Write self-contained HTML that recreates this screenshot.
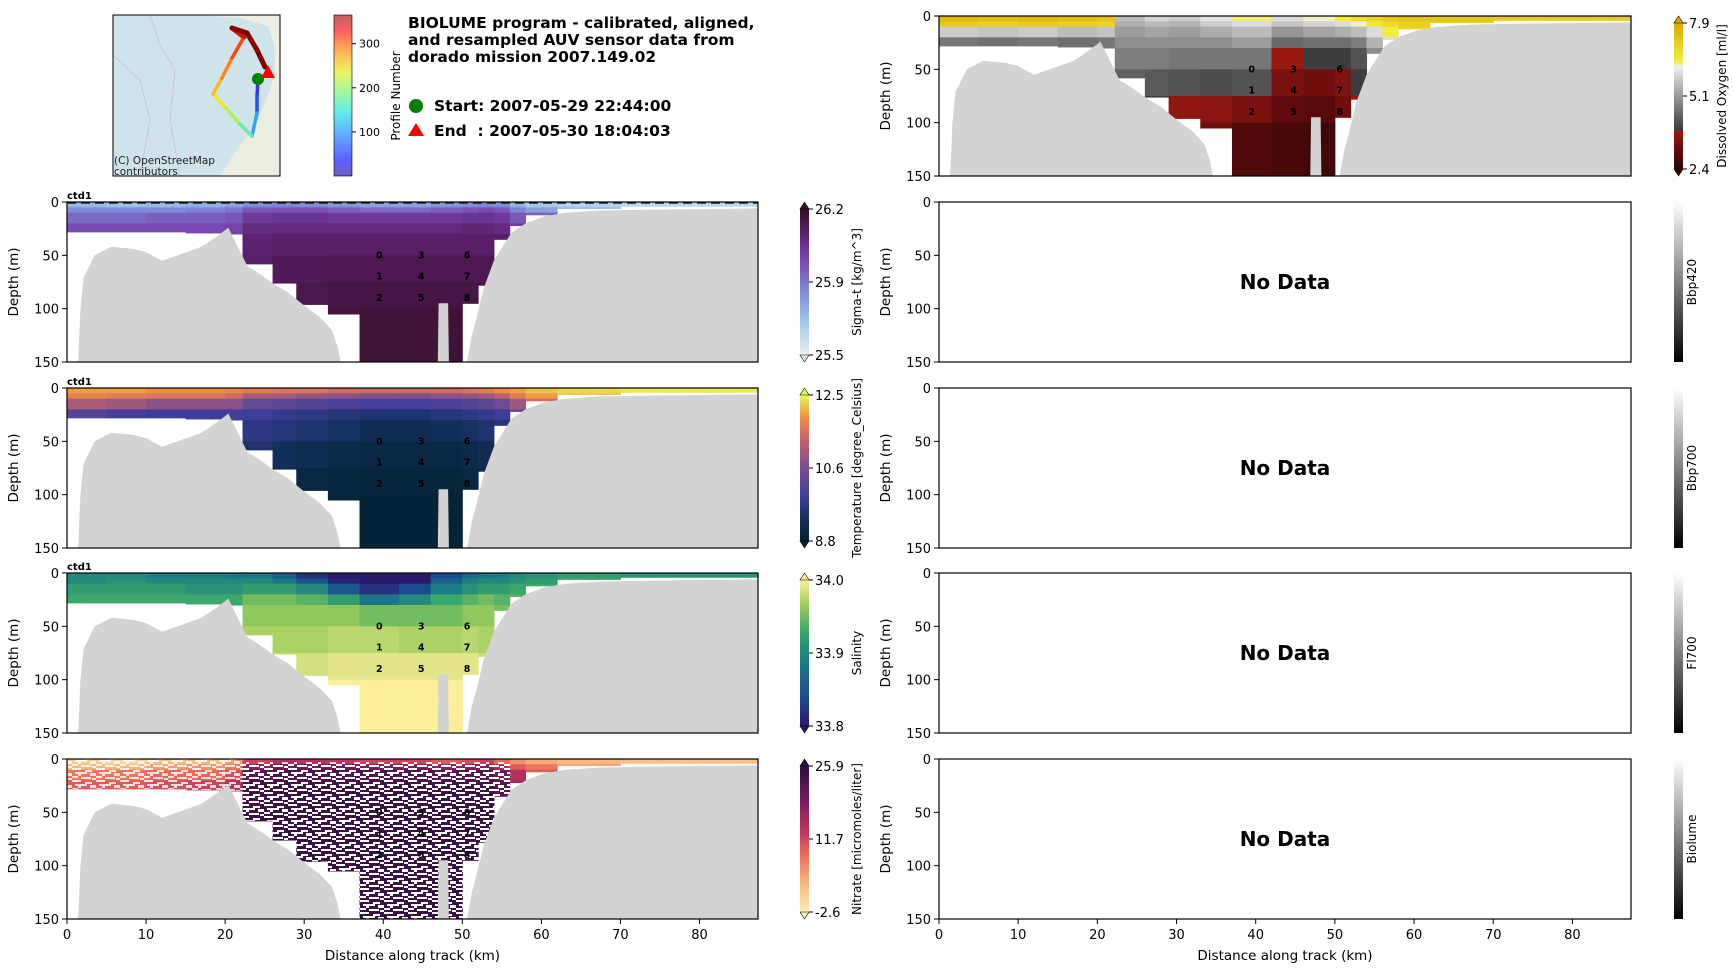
<!DOCTYPE html>
<html><head><meta charset="utf-8">
<style>
html,body{margin:0;padding:0;background:#fff;}
svg text{font-family:"DejaVu Sans","Liberation Sans",sans-serif;}
</style></head>
<body>
<svg id="fig" xmlns="http://www.w3.org/2000/svg" width="1733" height="968" viewBox="0 0 1733 968">
<defs>
<pattern id="speck" width="24" height="12" patternUnits="userSpaceOnUse">
<rect x="0" y="0" width="9" height="2" fill="#fff"/><rect x="13" y="2" width="7" height="2" fill="#fff"/>
<rect x="3" y="4" width="12" height="2" fill="#fff"/><rect x="18" y="5" width="6" height="3" fill="#fff"/>
<rect x="0" y="8" width="6" height="2" fill="#fff"/><rect x="9" y="9" width="10" height="2" fill="#fff"/>
<rect x="20" y="10" width="4" height="2" fill="#fff"/><rect x="6" y="6" width="3" height="2" fill="#fff"/>
</pattern>
<linearGradient id="gProfile" x1="0" y1="1" x2="0" y2="0">
<stop offset="0" stop-color="#6a5fc0"/><stop offset="0.1" stop-color="#6060ff"/><stop offset="0.25" stop-color="#60a8ff"/>
<stop offset="0.4" stop-color="#60f0e8"/><stop offset="0.55" stop-color="#b0f890"/><stop offset="0.65" stop-color="#f0f060"/>
<stop offset="0.78" stop-color="#ffb050"/><stop offset="0.9" stop-color="#ff6060"/><stop offset="1" stop-color="#c06060"/>
</linearGradient>
</defs>
<g id="root"></g>
</svg>
<script>
// ---------- data ----------
var xMax = 87.4;
var depthTicks = [0, 50, 100, 150];
var distTicks = [0, 10, 20, 30, 40, 50, 60, 70, 80];
var bathyDist = [1.4,1.7,2.1,3.5,5.6,8.4,10,12,14,15.5,17,19,20.4,21.8,22.8,24.5,26,28,30,32,33.5,34.2,34.6,46.9,47.0,48.2,48.3,50.6,51.2,51.7,52.7,54,56.2,58,60.4,63,67.4,75,87.4];
var bathyDepth = [150,100,71,50,42,44,47,55,50,46,42,32,24,45,60,68,76,85,97,108,120,135,150,150,95,95,150,150,125,112,81,55,29,20,13.5,10,8,7,6];
var segEdges = [0,5,10,15,20,22.2,26,29,33,37,42,46,50,52,54,56,58,62,70,87.4];
var segBottom = [28,28,28,29,30,58,76,96,105,150,150,150,95,78,35,22,12,6,4];
var rowEdges = [0,5,10,20,30,50,75,100,150];
var contourLabels = ['0','1','2','3','4','5','6','7','8'];
var contourDist = [39.5,39.5,39.5,44.8,44.8,44.8,50.6,50.6,50.6];
var contourDepth = [50,70,90,50,70,90,50,70,90];
var sigmaVals = [
[25.7,25.8,25.88,25.95,26.05,26.1,26.1,26.1],[25.68,25.8,25.88,25.95,26.05,26.1,26.1,26.1],[25.7,25.8,25.9,25.95,26.05,26.1,26.1,26.1],
[25.72,25.82,25.9,25.95,26.05,26.1,26.1,26.1],[25.75,25.85,25.92,25.97,26.05,26.1,26.1,26.1],[25.8,25.92,26.0,26.05,26.08,26.1,26.12,26.12],
[25.82,25.93,26.02,26.06,26.1,26.12,26.13,26.13],[25.8,25.93,26.02,26.06,26.1,26.12,26.14,26.14],[25.78,25.9,26.0,26.06,26.1,26.13,26.15,26.16],
[25.75,25.88,26.0,26.06,26.1,26.13,26.15,26.17],[25.75,25.88,26.0,26.06,26.1,26.13,26.15,26.17],[25.78,25.9,26.0,26.06,26.1,26.13,26.15,26.17],
[25.8,25.93,26.02,26.07,26.1,26.13,26.15,26.16],[25.82,25.95,26.02,26.07,26.1,26.13,26.15,26.15],[25.8,25.92,26.0,26.05,26.1,26.1,26.1,26.1],
[25.72,25.82,25.92,26.0,26.0,26.0,26.0,26.0],[25.65,25.75,25.9,25.9,25.9,25.9,25.9,25.9],[25.62,25.7,25.8,25.8,25.8,25.8,25.8,25.8],[25.6,25.65,25.7,25.7,25.7,25.7,25.7,25.7]];
var tempVals = [
[12.0,11.8,11.1,10.2,9.6,9.3,9.1,9.0],[12.0,11.7,11.0,10.0,9.6,9.3,9.1,9.0],[11.9,11.6,10.8,9.9,9.6,9.3,9.1,9.0],
[11.9,11.6,10.8,9.9,9.6,9.3,9.1,9.0],[11.8,11.5,10.8,10.0,9.6,9.3,9.1,9.0],[11.7,11.1,10.4,9.9,9.7,9.5,9.2,9.0],
[11.6,11.0,10.3,9.8,9.6,9.3,9.1,8.95],[11.6,10.9,10.2,9.7,9.5,9.2,9.0,8.95],[11.5,10.8,10.1,9.6,9.4,9.1,8.95,8.9],
[11.5,10.7,10.0,9.5,9.2,9.0,8.9,8.85],[11.5,10.7,10.0,9.5,9.2,9.0,8.9,8.85],[11.5,10.8,10.1,9.6,9.3,9.0,8.9,8.85],
[11.6,10.9,10.2,9.7,9.4,9.1,9.0,8.9],[11.7,11.0,10.3,9.8,9.5,9.2,9.0,8.9],[11.9,11.3,10.5,9.9,9.6,9.3,9.1,9.0],
[12.0,11.7,11.0,10.5,10.2,10.0,9.8,9.6],[12.2,12.0,11.5,11.0,11,11,11,11],[12.3,12.2,12,12,12,12,12,12],[12.4,12.3,12.2,12.2,12.2,12.2,12.2,12.2]];
var salVals = [
[33.9,33.9,33.92,33.93,33.94,33.95,33.96,33.97],[33.9,33.91,33.92,33.93,33.94,33.95,33.96,33.97],[33.89,33.9,33.92,33.93,33.94,33.95,33.96,33.97],
[33.89,33.9,33.91,33.93,33.94,33.95,33.96,33.97],[33.88,33.9,33.91,33.93,33.94,33.95,33.96,33.97],[33.88,33.9,33.92,33.95,33.96,33.97,33.98,33.98],
[33.86,33.88,33.92,33.95,33.96,33.97,33.98,33.98],[33.82,33.85,33.9,33.94,33.96,33.97,33.985,33.99],[33.8,33.81,33.85,33.92,33.96,33.975,33.99,34.0],
[33.8,33.8,33.82,33.88,33.95,33.975,33.99,34.0],[33.8,33.8,33.84,33.9,33.95,33.97,33.99,34.0],[33.84,33.86,33.89,33.93,33.95,33.97,33.99,34.0],
[33.87,33.89,33.91,33.94,33.96,33.975,33.99,34.0],[33.88,33.9,33.92,33.95,33.96,33.97,33.98,33.98],[33.89,33.9,33.92,33.94,33.95,33.95,33.95,33.95],
[33.9,33.91,33.93,33.94,33.94,33.94,33.94,33.94],[33.91,33.92,33.93,33.93,33.93,33.93,33.93,33.93],[33.92,33.93,33.93,33.93,33.93,33.93,33.93,33.93],[33.91,33.92,33.92,33.92,33.92,33.92,33.92,33.92]];
var nitVals = [
[1,3,8,10,12,14,16,18],[0,3,8,10,12,14,16,18],[2,5,9,11,12,14,16,18],
[3,6,9,12,13,15,17,19],[5,8,11,14,16,18,20,22],[12,18,22,24,24,25,25,25],
[14,20,23,24,25,25,25,25],[14,20,23,24,25,25,25,25],[13,20,23,24,25,25,25,25],
[12,19,23,24,25,25,25,25],[12,19,23,24,25,25,25,25],[10,18,22,24,25,25,25,25],
[11,18,22,24,25,25,25,25],[12,18,22,24,25,25,25,25],[9,15,20,22,22,22,22,22],
[6,10,14,16,16,16,16,16],[4,8,10,10,10,10,10,10],[3,5,6,6,6,6,6,6],[2,3,4,4,4,4,4,4]];
var oxyVals = [
[7.5,7.2,5.8,4.7,4.6,4.6,4.6,4.3],[7.4,7.1,5.7,4.6,4.5,4.5,4.5,4.3],[7.5,7.2,5.8,4.7,4.6,4.6,4.6,4.3],
[7.4,7.1,5.6,4.6,4.5,4.5,4.5,4.3],[7.3,7.0,5.7,4.7,4.6,4.6,4.6,4.3],[5.6,5.4,5.2,5.0,4.8,4.4,4.2,4.0],
[5.9,5.6,5.3,5.0,4.8,4.3,3.9,3.7],[5.8,5.5,5.2,5.0,4.7,4.2,3.7,3.5],[6.1,5.8,5.4,5.0,4.7,4.1,3.6,3.3],
[6.4,6.0,5.6,5.2,4.7,4.2,3.4,2.9],[6.0,5.7,5.1,4.5,3.8,3.4,3.1,2.8],[6.3,5.9,5.3,4.6,3.9,3.3,3.0,2.7],
[6.5,6.0,5.4,4.6,3.9,3.5,3.3,3.2],[6.8,6.3,5.6,4.8,4.2,3.9,3.8,3.8],[7.0,6.6,6.0,5.5,5.0,5.0,5.0,5.0],
[7.2,6.9,6.5,6,6,6,6,6],[7.3,7.1,7,7,7,7,7,7],[7.3,7.2,7.2,7.2,7.2,7.2,7.2,7.2],[7.2,7.1,7.1,7.1,7.1,7.1,7.1,7.1]];
var oxyTicks = ['7.9','5.1','2.4'];
var sigmaTicks = ['26.2','25.9','25.5'];
var tempTicks = ['12.5','10.6','8.8'];
var salTicks = ['34.0','33.9','33.8'];
var nitTicks = ['25.9','11.7','-2.6'];
var profileTicks = [300, 200, 100];
var trackPts = [[258,79],[257,96],[257,113],[252,136],[238,122],[224,106],[213,94],[222,78],[232,58],[244,37],[232,28],[247,33],[257,50],[265,67]];
var trackProfile = [10,40,80,130,170,205,235,265,295,320,345,355,360];

// ---------- helpers ----------
var NS = 'http://www.w3.org/2000/svg';
var root = document.getElementById('root');
function el(tag, attrs, parent, txt){ var e = document.createElementNS(NS, tag); for (var k in attrs) e.setAttribute(k, attrs[k]); if (txt !== undefined) e.textContent = txt; (parent||root).appendChild(e); return e; }
function hex(c){ return [parseInt(c.substr(1,2),16),parseInt(c.substr(3,2),16),parseInt(c.substr(5,2),16)]; }
function cmap(stops, t){ t = Math.max(0, Math.min(1, t)); for (var i=1;i<stops.length;i++){ if (t <= stops[i][0]){ var a=stops[i-1], b=stops[i]; var f=(t-a[0])/((b[0]-a[0])||1); var A=hex(a[1]),B=hex(b[1]); return 'rgb('+Math.round(A[0]+(B[0]-A[0])*f)+','+Math.round(A[1]+(B[1]-A[1])*f)+','+Math.round(A[2]+(B[2]-A[2])*f)+')'; } } return stops[stops.length-1][1]; }
var CM_DENSE = [[0,'#e6f0f0'],[0.25,'#9cc3e6'],[0.45,'#7d85d8'],[0.65,'#7a47b0'],[0.85,'#5a1f6a'],[1,'#360e24']];
var CM_THERMAL = [[0,'#042333'],[0.15,'#15305f'],[0.3,'#3d3d9a'],[0.5,'#7a4e8f'],[0.7,'#c8636a'],[0.85,'#f2923f'],[1,'#e8fa5b']];
var CM_HALINE = [[0,'#2a186c'],[0.2,'#1b4b91'],[0.45,'#1b7e84'],[0.65,'#3aa76b'],[0.82,'#9bcc5a'],[1,'#fdef9a']];
var CM_MATTER = [[0,'#fdedb0'],[0.2,'#f7b77c'],[0.4,'#eb6a57'],[0.55,'#c2335f'],[0.75,'#7b1d62'],[1,'#2f0f3d']];
var CM_OXY = [[0,'#2a0505'],[0.15,'#6b0d0d'],[0.26,'#9a1a10'],[0.265,'#3a3a3a'],[0.42,'#777777'],[0.6,'#c4c4c4'],[0.7,'#f0f0f0'],[0.74,'#f5ec40'],[1,'#d9a800']];

function makeAxes(x0, y0, w, h){
  return { xs: function(km){ return x0 + km / xMax * w; }, ys: function(d){ return y0 + d / 150 * h; }, x0:x0, y0:y0, w:w, h:h };
}

function drawPanel(name, ax, vals, vmin, vmax, stops, opts){
  var g = el('g', {});  
  var cid = name + '-clip';
  var cp = el('clipPath', {id: cid}, g); el('rect', {x:ax.x0, y:ax.y0, width:ax.w, height:ax.h}, cp);
  var inner = el('g', {'clip-path':'url(#'+cid+')'}, g);
  if (vals){
    var heat = el('g', {}, inner);
     
    for (var s=0; s<segBottom.length; s++){
      for (var r=0; r<rowEdges.length-1; r++){
        var top = rowEdges[r], bot = Math.min(rowEdges[r+1], segBottom[s]);
        if (top >= bot) continue;
        var c = el('rect', {x: ax.xs(segEdges[s]), y: ax.ys(top), width: ax.xs(segEdges[s+1]) - ax.xs(segEdges[s]) + 0.5, height: ax.ys(bot) - ax.ys(top) + 0.5, fill: cmap(stops, (vals[s][r]-vmin)/(vmax-vmin))}, heat);
        
        
      }
    }
    if (opts && opts.speckle){
      for (var s2=5; s2<15; s2++){
        el('rect', {x: ax.xs(segEdges[s2]), y: ax.ys(3), width: ax.xs(segEdges[s2+1]) - ax.xs(segEdges[s2]) + 0.5, height: ax.ys(segBottom[s2]) - ax.ys(3), fill:'url(#speck)'}, heat);
      }
      for (var s3=0; s3<5; s3++){
        el('rect', {x: ax.xs(segEdges[s3]), y: ax.ys(0), width: ax.xs(segEdges[s3+1]) - ax.xs(segEdges[s3]) + 0.5, height: ax.ys(segBottom[s3]) - ax.ys(0), fill:'url(#speck)', opacity:0.8}, heat);
      }
    }
    var pts = [];
    for (var i=0;i<bathyDist.length;i++) pts.push(ax.xs(bathyDist[i]).toFixed(1)+','+ax.ys(bathyDepth[i]).toFixed(1));
    pts.push(ax.xs(xMax)+','+ax.ys(150)); pts.push(ax.xs(bathyDist[0])+','+ax.ys(150));
    var b = el('polygon', {points: pts.join(' '), fill:'#d3d3d3'}, inner);
     
    for (var k=0;k<contourLabels.length;k++){
      var t = el('text', {x: ax.xs(contourDist[k]), y: ax.ys(contourDepth[k]) + 3, 'font-size': 9.5, 'font-weight':'bold', 'text-anchor':'middle', fill:'#000'}, inner, contourLabels[k]);
       
    }
    if (opts && opts.dashed){
      el('line', {x1: ax.x0, x2: ax.x0+ax.w, y1: ax.y0+1, y2: ax.y0+1, stroke:'#222', 'stroke-width':1.5, 'stroke-dasharray':'9,5'}, inner);
    }
  } else {
    var nd = el('text', {x: ax.x0 + ax.w/2, y: ax.y0 + ax.h/2 + 7, 'font-size': 20, 'font-weight':'bold', 'text-anchor':'middle'}, g, 'No Data');
     
  }
  var fr = el('rect', {x:ax.x0, y:ax.y0, width:ax.w, height:ax.h, fill:'none', stroke:'#000', 'stroke-width':1.2}, g);
   
  for (var d=0; d<depthTicks.length; d++){
    var yy = ax.ys(depthTicks[d]);
    el('line', {x1: ax.x0-5, x2: ax.x0, y1: yy, y2: yy, stroke:'#000'}, g);
    var tl = el('text', {x: ax.x0-8, y: yy+5, 'font-size': 13, 'text-anchor':'end'}, g, String(depthTicks[d]));
     
  }
  var yl = el('text', {transform:'translate('+(ax.x0-49)+','+(ax.y0+ax.h/2)+') rotate(-90)', 'font-size': 13.5, 'text-anchor':'middle'}, g, 'Depth (m)');
   
  if (opts && opts.xaxis){
    for (var q=0;q<distTicks.length;q++){
      var xx = ax.xs(distTicks[q]);
      el('line', {x1:xx, x2:xx, y1: ax.y0+ax.h, y2: ax.y0+ax.h+5, stroke:'#000'}, g);
      var xt = el('text', {x:xx, y: ax.y0+ax.h+20, 'font-size':13, 'text-anchor':'middle'}, g, String(distTicks[q]));
       
    }
    var xl = el('text', {x: ax.x0+ax.w/2, y: ax.y0+ax.h+41, 'font-size':13.5, 'text-anchor':'middle'}, g, 'Distance along track (km)');
     
  }
  if (opts && opts.ctd){
    var ct = el('text', {x: ax.x0, y: ax.y0-3, 'font-size':10, 'font-weight':'bold'}, g, 'ctd1');
     
  }
}

function drawColorbar(name, x, y0, h, stops, ticks, label, extend, labelOff){
  var g = el('g', {});  
  var top = y0 + (extend ? 7 : 0), bot = y0 + h - (extend ? 7 : 0);
  var gid = name + '-grad';
  var lg = el('linearGradient', {id:gid, x1:0, y1:1, x2:0, y2:0}, g);
  if (stops){ for (var i=0;i<stops.length;i++) el('stop', {offset: stops[i][0], 'stop-color': stops[i][1]}, lg); }
  else { el('stop', {offset:0,'stop-color':'#000'}, lg); el('stop', {offset:1,'stop-color':'#fff'}, lg); }
  el('rect', {x:x, y:top, width:9, height:bot-top, fill:'url(#'+gid+')'}, g);
  if (extend){
    el('polygon', {points: x+','+top+' '+(x+9)+','+top+' '+(x+4.5)+','+y0, fill: stops[stops.length-1][1], stroke:'#000','stroke-width':0.6}, g);
    el('polygon', {points: x+','+bot+' '+(x+9)+','+bot+' '+(x+4.5)+','+(y0+h), fill: stops[0][1], stroke:'#000','stroke-width':0.6}, g);
  }
  if (ticks){
    var ypos = [top, (top+bot)/2, bot];
    for (var k=0;k<ticks.length;k++){
      el('line', {x1:x+9, x2:x+13, y1:ypos[k], y2:ypos[k], stroke:'#000'}, g);
      var t = el('text', {x:x+15, y:ypos[k]+5, 'font-size':13}, g, ticks[k]);
       
    }
  }
  var lx = x + (labelOff || (ticks ? 61 : 22));
  var lb = el('text', {transform:'translate('+lx+','+(y0+h/2)+') rotate(-90)', 'font-size':12, 'text-anchor':'middle'}, g, label);
   
}

// ---------- layout ----------
var LX = 67, LW = 691, RX = 939, RW = 692, PH = 160;
var rowsY = [202, 388, 573, 759];
drawPanel('sigma-t-panel', makeAxes(LX, rowsY[0], LW, PH), sigmaVals, 25.5, 26.2, CM_DENSE, {ctd:true, dashed:true});
drawPanel('temperature-panel', makeAxes(LX, rowsY[1], LW, PH), tempVals, 8.8, 12.5, CM_THERMAL, {ctd:true});
drawPanel('salinity-panel', makeAxes(LX, rowsY[2], LW, PH), salVals, 33.8, 34.0, CM_HALINE, {ctd:true});
drawPanel('nitrate-panel', makeAxes(LX, rowsY[3], LW, PH), nitVals, -2.6, 25.9, CM_MATTER, {speckle:true, xaxis:true});
drawPanel('oxygen-panel', makeAxes(RX, 16, RW, PH), oxyVals, 2.4, 7.9, CM_OXY, {});
drawPanel('bbp420-panel', makeAxes(RX, rowsY[0], RW, PH), null);
drawPanel('bbp700-panel', makeAxes(RX, rowsY[1], RW, PH), null);
drawPanel('fl700-panel', makeAxes(RX, rowsY[2], RW, PH), null);
drawPanel('biolume-panel', makeAxes(RX, rowsY[3], RW, PH), null, 0, 1, null, {xaxis:true});

drawColorbar('sigma-t-colorbar', 800, rowsY[0], PH, CM_DENSE, sigmaTicks, 'Sigma-t [kg/m^3]', true);
drawColorbar('temperature-colorbar', 800, rowsY[1], PH, CM_THERMAL, tempTicks, 'Temperature [degree_Celsius]', true);
drawColorbar('salinity-colorbar', 800, rowsY[2], PH, CM_HALINE, salTicks, 'Salinity', true);
drawColorbar('nitrate-colorbar', 800, rowsY[3], PH, CM_MATTER, nitTicks, 'Nitrate [micromoles/liter]', true);
drawColorbar('oxygen-colorbar', 1674, 16, PH, CM_OXY, oxyTicks, 'Dissolved Oxygen [ml/l]', true, 52);
drawColorbar('bbp420-colorbar', 1674, rowsY[0], PH, null, null, 'Bbp420', false);
drawColorbar('bbp700-colorbar', 1674, rowsY[1], PH, null, null, 'Bbp700', false);
drawColorbar('fl700-colorbar', 1674, rowsY[2], PH, null, null, 'Fl700', false);
drawColorbar('biolume-colorbar', 1674, rowsY[3], PH, null, null, 'Biolume', false);

// ---------- map ----------
var mg = el('g', {});  
var mcp = el('clipPath', {id:'mapclip'}, mg);
el('rect', {x:113, y:15, width:167, height:161}, mcp);
var mi = el('g', {'clip-path':'url(#mapclip)'}, mg);
el('rect', {x:113, y:15, width:167, height:161, fill:'#cfe3ea'}, mi);
el('polygon', {points:'200,15 280,15 280,176 220,176 230,160 240,146 255,126 262,110 270,90 275,70 274,45 268,26 240,18', fill:'#eceee2'}, mi);
el('polyline', {points:'150,15 160,45 175,70 170,120 180,176', fill:'none', stroke:'#c9b9cc', 'stroke-width':0.7}, mi);
el('polyline', {points:'113,55 140,80 150,120 140,176', fill:'none', stroke:'#c9b9cc', 'stroke-width':0.7}, mi);
for (var i=0;i<trackPts.length-1;i++){
  var tc = cmap([[0,'#3030e0'],[0.12,'#2050ff'],[0.3,'#40e8e0'],[0.45,'#a0f060'],[0.55,'#f0f020'],[0.7,'#ffa020'],[0.85,'#ff3010'],[0.93,'#a00000'],[1,'#800000']], trackProfile[i]/360);
  var seg = el('line', {x1:trackPts[i][0], y1:trackPts[i][1], x2:trackPts[i+1][0], y2:trackPts[i+1][1], stroke:tc, 'stroke-width': i>=9 ? 5 : 3.5, 'stroke-linecap':'round'}, mi);
  
  
}
var sd = el('circle', {cx:258, cy:79, r:6, fill:'#008000'}, mi);  
var ed = el('polygon', {points:'268,65 275,78 261,78', fill:'#ff0000'}, mi);  
el('text', {x:114, y:164, 'font-size':10.5, fill:'#222'}, mi, '(C) OpenStreetMap');
el('text', {x:114, y:175, 'font-size':10.5, fill:'#222'}, mi, 'contributors');
el('rect', {x:113, y:15, width:167, height:161, fill:'none', stroke:'#000', 'stroke-width':1}, mg);

// profile colorbar
var pg = el('g', {});  
el('rect', {x:334, y:15, width:18, height:161, fill:'url(#gProfile)', stroke:'#000', 'stroke-width':0.6}, pg);
for (var p=0;p<profileTicks.length;p++){
  var py = 176 - profileTicks[p] / 365 * 161;
  el('line', {x1:352, x2:356, y1:py, y2:py, stroke:'#000'}, pg);
  el('text', {x:359, y:py+4, 'font-size':11}, pg, String(profileTicks[p]));
}
el('text', {transform:'translate(400,96) rotate(-90)', 'font-size':12, 'text-anchor':'middle'}, pg, 'Profile Number');

// title & legend
var tg = el('g', {});  
el('text', {x:408, y:28, 'font-size':15.5, 'font-weight':'bold'}, tg, 'BIOLUME program - calibrated, aligned,');
el('text', {x:408, y:45, 'font-size':15.5, 'font-weight':'bold'}, tg, 'and resampled AUV sensor data from');
el('text', {x:408, y:62, 'font-size':15.5, 'font-weight':'bold'}, tg, 'dorado mission 2007.149.02');
el('circle', {cx:416, cy:106, r:7, fill:'#008000'}, tg);
el('text', {x:434, y:111, 'font-size':15.5, 'font-weight':'bold', 'xml:space':'preserve'}, tg, 'Start: 2007-05-29 22:44:00');
el('polygon', {points:'416,123 424,136 408,136', fill:'#ff0000'}, tg);
el('text', {x:434, y:136, 'font-size':15.5, 'font-weight':'bold', 'xml:space':'preserve', style:'white-space:pre'}, tg, 'End  : 2007-05-30 18:04:03');
</script>
</body></html>
